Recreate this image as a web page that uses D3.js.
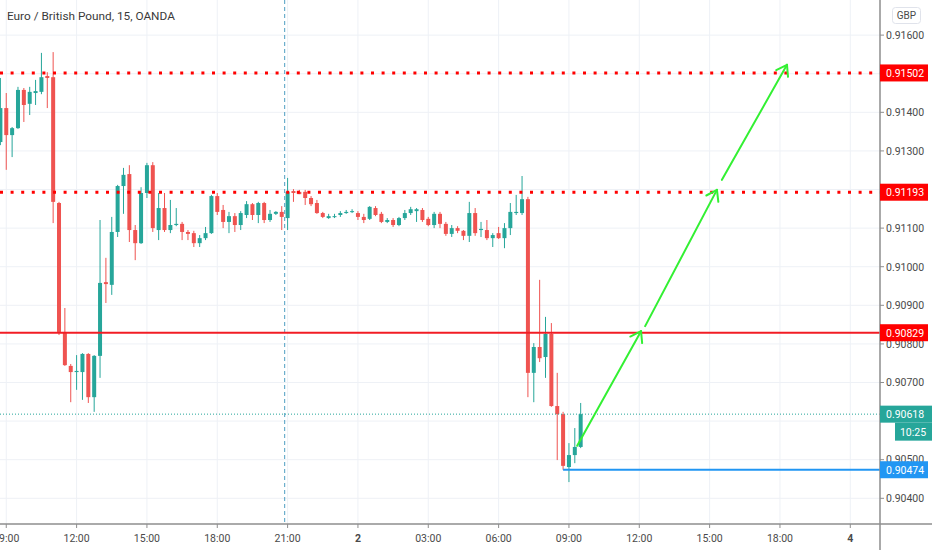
<!DOCTYPE html>
<html><head><meta charset="utf-8">
<script src="https://cdn.jsdelivr.net/npm/d3@7"></script>
<style>
body{margin:0;background:#fff;}
svg{display:block;font-family:Roboto, "Noto Sans", sans-serif;}
</style>
</head><body>
<svg id="chart" width="932" height="550"></svg>
<script>
// ---------- DATA (EUR/GBP 15-minute candles) ----------
const title = "Euro / British Pound, 15, OANDA";
const opens = [0.91323,0.91411,0.91341,0.91359,0.91458,0.91422,0.91450,0.91453,0.91494,0.91491,
0.91165,0.90831,0.90743,0.90727,0.90727,0.90774,0.90662,0.90769,0.90960,0.90953,
0.91090,0.91209,0.91240,0.91095,0.91061,0.91191,0.91263,0.91095,0.91152,0.91095,
0.91108,0.91111,0.91090,0.91087,0.91061,0.91074,0.91087,0.91183,0.91147,0.91116,
0.91131,0.91108,0.91134,0.91162,0.91134,0.91165,0.91121,0.91137,0.91142,0.91126,
0.91196,0.91194,0.91194,0.91178,0.91165,0.91139,0.91126,0.91129,0.91134,0.91139,
0.91142,0.91139,0.91129,0.91124,0.91152,0.91137,0.91116,0.91121,0.91108,0.91126,
0.91139,0.91144,0.91147,0.91124,0.91108,0.91137,0.91111,0.91085,0.91100,0.91093,
0.91080,0.91139,0.91095,0.91095,0.91074,0.91087,0.91074,0.91100,0.91139,0.91139,
0.91175,0.90725,0.90792,0.90766,0.90826,0.90639,0.90618,0.90481,0.90512,0.90533];
const highs = [0.91489,0.91450,0.91362,0.91466,0.91463,0.91466,0.91484,0.91554,0.91504,0.91556,
0.91168,0.90893,0.90748,0.90771,0.90776,0.90776,0.90771,0.91121,0.91023,0.91129,
0.91212,0.91256,0.91263,0.91108,0.91206,0.91269,0.91271,0.91191,0.91191,0.91173,
0.91152,0.91116,0.91095,0.91093,0.91082,0.91103,0.91186,0.91191,0.91160,0.91142,
0.91139,0.91144,0.91170,0.91165,0.91168,0.91168,0.91147,0.91144,0.91157,0.91230,
0.91201,0.91199,0.91199,0.91183,0.91173,0.91142,0.91137,0.91137,0.91144,0.91147,
0.91149,0.91144,0.91137,0.91157,0.91157,0.91142,0.91126,0.91126,0.91129,0.91147,
0.91155,0.91152,0.91152,0.91129,0.91142,0.91142,0.91116,0.91108,0.91105,0.91095,
0.91168,0.91152,0.91116,0.91121,0.91087,0.91103,0.91113,0.91165,0.91186,0.91235,
0.91181,0.90802,0.90966,0.90870,0.90854,0.90725,0.90624,0.90543,0.90582,0.90647];
const lows = [0.91315,0.91251,0.91284,0.91357,0.91375,0.91393,0.91419,0.91447,0.91411,0.91113,
0.90823,0.90743,0.90649,0.90681,0.90655,0.90647,0.90624,0.90712,0.90906,0.90927,
0.91077,0.91137,0.91064,0.91017,0.91059,0.91178,0.91090,0.91069,0.91090,0.91087,
0.91105,0.91069,0.91069,0.91051,0.91051,0.91069,0.91085,0.91134,0.91100,0.91087,
0.91090,0.91095,0.91126,0.91121,0.91113,0.91113,0.91116,0.91134,0.91095,0.91095,
0.91168,0.91188,0.91160,0.91157,0.91137,0.91126,0.91124,0.91126,0.91129,0.91137,
0.91139,0.91121,0.91113,0.91121,0.91131,0.91113,0.91113,0.91103,0.91105,0.91121,
0.91134,0.91116,0.91116,0.91105,0.91100,0.91100,0.91080,0.91077,0.91087,0.91069,
0.91064,0.91080,0.91077,0.91069,0.91051,0.91072,0.91048,0.91082,0.91134,0.91134,
0.90662,0.90649,0.90753,0.90712,0.90637,0.90499,0.90474,0.90442,0.90491,0.90530];
const closes = [0.91411,0.91341,0.91359,0.91458,0.91419,0.91453,0.91455,0.91491,0.91489,0.91168,
0.90831,0.90745,0.90727,0.90730,0.90774,0.90662,0.90769,0.90958,0.90955,0.91090,
0.91209,0.91238,0.91095,0.91061,0.91191,0.91263,0.91100,0.91152,0.91095,0.91108,
0.91111,0.91090,0.91085,0.91061,0.91074,0.91087,0.91183,0.91142,0.91116,0.91131,
0.91108,0.91139,0.91162,0.91134,0.91165,0.91121,0.91137,0.91142,0.91129,0.91194,
0.91191,0.91188,0.91178,0.91162,0.91139,0.91129,0.91131,0.91131,0.91139,0.91142,
0.91144,0.91129,0.91121,0.91155,0.91134,0.91116,0.91121,0.91108,0.91126,0.91139,
0.91149,0.91149,0.91121,0.91108,0.91137,0.91111,0.91085,0.91100,0.91093,0.91080,
0.91139,0.91087,0.91098,0.91074,0.91082,0.91074,0.91100,0.91142,0.91142,0.91175,
0.90725,0.90792,0.90763,0.90826,0.90639,0.90618,0.90484,0.90512,0.90533,0.90618];

// time axis: bar index of each label (bar 0 = 08:45 day 1)
const timeTickIndex  = [1, 13, 25, 37, 49, 61, 73, 85, 97, 109, 121, 133, 145];
const timeTickLabels = ["09:00","12:00","15:00","18:00","21:00","2","03:00","06:00","09:00","12:00","15:00","18:00","4"];
const dayLabels = ["2","4"];
const priceTicks = [0.904,0.905,0.906,0.907,0.908,0.909,0.910,0.911,0.912,0.913,0.914,0.915,0.916];

const dottedLevels = [0.91502, 0.91193];
const solidLevel = 0.90829;
const currentPrice = 0.90618;
const countdown = "10:25";
const supportLevel = 0.90474;
const supportStartIndex = 96;
const sessionBreakIndex = 48.5;
const currency = "GBP";
// projected path (bar index, price) pairs: start -> end for each arrow
const arrowStartIdx = [98.4, 110.0, 123.1];
const arrowStartPx  = [0.90536, 0.90846, 0.91225];
const arrowEndIdx   = [109.3, 122.25, 134.2];
const arrowEndPx    = [0.90833, 0.91199, 0.91523];

// ---------- LAYOUT ----------
const W = 932, H = 550, plotR = 880, plotB = 524;
const svg = d3.select("#chart");
const x = d3.scaleLinear().domain([0, 150]).range([0.4, 879.6]);
const y = d3.scaleLinear().domain([0.90336, 0.91691]).range([523, 0]);
const fmt = d3.format(".5f");
const UP = "#26a69a", DN = "#ef5350";
const gridC = "#eef1f6", axisC = "#8e8e8e", textC = "#4a4a4a";

svg.append("defs").append("clipPath").attr("id","plot")
  .append("rect").attr("x",0).attr("y",0).attr("width",plotR).attr("height",plotB);

// grid
const grid = svg.append("g");
grid.selectAll("line.v").data(timeTickIndex).join("line")
  .attr("x1", d => x(d)).attr("x2", d => x(d)).attr("y1", 0).attr("y2", plotB)
  .attr("stroke", gridC).attr("stroke-width", 1);
grid.selectAll("line.h").data(priceTicks).join("line").attr("class","h")
  .attr("x1", 0).attr("x2", plotR).attr("y1", d => y(d)).attr("y2", d => y(d))
  .attr("stroke", gridC).attr("stroke-width", 1);

const plot = svg.append("g").attr("clip-path","url(#plot)");

// session break
plot.append("line").attr("x1", x(sessionBreakIndex)).attr("x2", x(sessionBreakIndex))
  .attr("y1", 0).attr("y2", plotB).attr("stroke", "#4f9fc2").attr("stroke-width", 1)
  .attr("stroke-dasharray", "4,3");

// candles
const bars = d3.range(opens.length).map(i => ({i, o: opens[i], h: highs[i], l: lows[i], c: closes[i]}));
const cg = plot.append("g");
cg.selectAll("line.w").data(bars).join("line")
  .attr("x1", d => x(d.i)).attr("x2", d => x(d.i))
  .attr("y1", d => y(d.h)).attr("y2", d => y(d.l))
  .attr("stroke", d => d.c >= d.o ? UP : DN).attr("stroke-width", 1);
cg.selectAll("rect").data(bars).join("rect")
  .attr("x", d => x(d.i) - 2).attr("width", 4)
  .attr("y", d => y(Math.max(d.o, d.c)))
  .attr("height", d => Math.max(1, Math.abs(y(d.o) - y(d.c))))
  .attr("fill", d => d.c >= d.o ? UP : DN);

// level lines
plot.selectAll("line.dl").data(dottedLevels).join("line")
  .attr("x1", 0).attr("x2", plotR).attr("y1", d => y(d)).attr("y2", d => y(d))
  .attr("stroke", "#ff0000").attr("stroke-width", 3).attr("stroke-dasharray", "3,7.6");
plot.append("line").attr("x1", 0).attr("x2", plotR).attr("y1", y(solidLevel)).attr("y2", y(solidLevel))
  .attr("stroke", "#f21c24").attr("stroke-width", 2);
plot.append("line").attr("x1", 0).attr("x2", plotR).attr("y1", y(currentPrice)).attr("y2", y(currentPrice))
  .attr("stroke", UP).attr("stroke-width", 1).attr("stroke-dasharray", "1,2");
plot.append("line").attr("x1", x(supportStartIndex)).attr("x2", plotR)
  .attr("y1", y(supportLevel)).attr("y2", y(supportLevel))
  .attr("stroke", "#2196f3").attr("stroke-width", 2);

// arrows
const GREEN = "#33f033";
arrowStartIdx.forEach((s, k) => {
  const x1 = x(s), y1 = y(arrowStartPx[k]), x2 = x(arrowEndIdx[k]), y2 = y(arrowEndPx[k]);
  plot.append("line").attr("x1", x1).attr("y1", y1).attr("x2", x2).attr("y2", y2)
    .attr("stroke", GREEN).attr("stroke-width", 2).attr("stroke-linecap","round");
  const ang = Math.atan2(y1 - y2, x1 - x2), L = 12, spread = 0.6;
  [ang - spread, ang + spread].forEach(a => {
    plot.append("line").attr("x1", x2).attr("y1", y2)
      .attr("x2", x2 + L * Math.cos(a)).attr("y2", y2 + L * Math.sin(a))
      .attr("stroke", GREEN).attr("stroke-width", 2).attr("stroke-linecap","round");
  });
});

// axes lines
svg.append("line").attr("x1", 0).attr("x2", W).attr("y1", plotB).attr("y2", plotB)
  .attr("stroke", axisC).attr("stroke-width", 1.5);
svg.append("line").attr("x1", plotR).attr("x2", plotR).attr("y1", 0).attr("y2", H)
  .attr("stroke", axisC).attr("stroke-width", 1.5);

// time axis
const tg = svg.append("g").attr("font-size", "10.5px").attr("fill", textC);
timeTickIndex.forEach((t, k) => {
  tg.append("line").attr("x1", x(t)).attr("x2", x(t)).attr("y1", plotB).attr("y2", plotB + 4)
    .attr("stroke", axisC).attr("stroke-width", 1);
  tg.append("text").attr("x", x(t)).attr("y", 541.5).attr("text-anchor", "middle")
    .attr("font-weight", dayLabels.includes(timeTickLabels[k]) ? "bold" : "normal")
    .text(timeTickLabels[k]);
});

// price axis (labels hidden behind a price tag are not drawn, as in the reference)
const tagLevels = [...dottedLevels, solidLevel, supportLevel, currentPrice];
const pg = svg.append("g").attr("font-size", "10.5px").attr("fill", textC);
priceTicks.forEach(p => {
  pg.append("line").attr("x1", plotR).attr("x2", plotR + 4).attr("y1", y(p)).attr("y2", y(p))
    .attr("stroke", axisC).attr("stroke-width", 1);
  const covered = tagLevels.some(v => Math.abs(y(v) - y(p)) < 8);
  if (!covered) pg.append("text").attr("x", 886).attr("y", y(p) + 3.8).text(fmt(p));
});

// price labels
function tag(v, color, w) {
  const yy = y(v);
  svg.append("rect").attr("x", plotR).attr("y", yy - 8.5).attr("width", w).attr("height", 17).attr("fill", color);
  svg.append("text").attr("x", 886).attr("y", yy + 3.8).attr("font-size", "10.5px").attr("fill", "#fff").text(fmt(v));
}
dottedLevels.forEach(v => tag(v, "#ff0000", 48));
tag(solidLevel, "#ff0000", 48);
tag(supportLevel, "#2196f3", 48);
tag(currentPrice, UP, 52);
svg.append("rect").attr("x", 895).attr("y", y(currentPrice) + 8.5).attr("width", 37).attr("height", 18).attr("fill", UP);
svg.append("text").attr("x", 913).attr("y", y(currentPrice) + 22).attr("text-anchor","middle")
  .attr("font-size", "10.5px").attr("fill", "#fff").text(countdown);

// currency box
svg.append("rect").attr("x", 892.5).attr("y", 7.5).attr("width", 28).attr("height", 16).attr("rx", 3)
  .attr("fill", "#fff").attr("stroke", "#e0e3eb");
svg.append("text").attr("x", 906.5).attr("y", 19).attr("text-anchor","middle").attr("font-size","10px")
  .attr("fill", textC).text(currency);

// title
svg.append("text").attr("x", 7).attr("y", 19.5).attr("font-size", "11.8px").attr("fill", "#3a3a3a").text(title);
</script>
</body></html>
